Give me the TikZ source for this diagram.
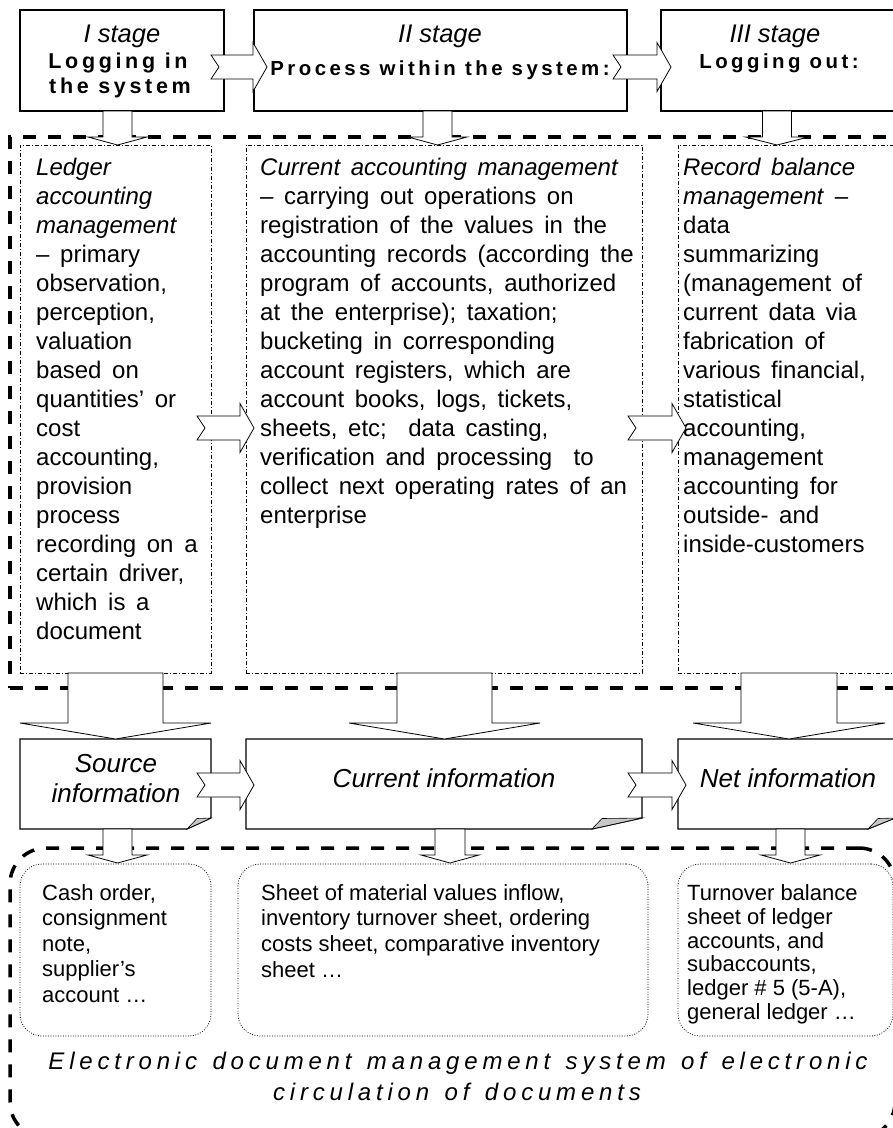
\documentclass[tikz,border=0pt]{standalone}
\usepackage{fontspec}
\setmainfont{Liberation Sans}
\newfontfamily\bodyfont{Liberation Sans}[WordSpace=1.6]
\newfontfamily\spb{Liberation Sans}[LetterSpace=17]
\newfontfamily\spi{Liberation Sans}[LetterSpace=20,WordSpace=1.35]
\usetikzlibrary{calc}
\newcommand\harrow[2]{%
  \path[barrow] let \p1=(#1), \p2=(#2) in
    (\x1,\y1+12pt) -- (\x2-14pt,\y1+12pt) -- (\x2-14pt,\y1+24.5pt) -- (\x2,\y1)
    -- (\x2-14pt,\y1-24.5pt) -- (\x2-14pt,\y1-12pt) -- (\x1,\y1-12pt) -- (\x1+8pt,\y1) -- cycle;}
% #1 top, #2 tip, #3 shaft half width, #4 head half width, #5 head length
\newcommand\varrow[5]{%
  \path[barrow] let \p1=(#1), \p2=(#2) in
    (\x1-#3pt,\y1) -- (\x1-#3pt,\y2+#5pt) -- (\x1-#4pt,\y2+#5pt) -- (\x1,\y2)
    -- (\x1+#4pt,\y2+#5pt) -- (\x1+#3pt,\y2+#5pt) -- (\x1+#3pt,\y1) -- cycle;}
% document outline: #1 node, #2 fold width
\newcommand\docshape[2]{%
  \draw[docline] (#1.north west) -- (#1.north east) -- ($(#1.south east)+(0,-11)$)
    -- ($(#1.south east)+(-#2,0)$) -- (#1.south west) -- cycle;
  \filldraw[fold] ($(#1.south east)+(-#2,0)$) -- ($(#1.south east)+(-#2+10,-10.5)$)
    -- ($(#1.south east)+(0,-11)$) -- cycle;}
\tikzset{
  stagebox/.style={draw, line width=1.2pt, inner sep=0pt, outer sep=0pt, anchor=north west},
  plainbox/.style={draw=none, inner sep=0pt, outer sep=0pt, anchor=north west},
  docline/.style={line width=1.2pt, line join=miter},
  fold/.style={fill=black!22, draw=black, line width=0.6pt},
  ddbox/.style={draw, line width=0.7pt, dash pattern=on 4pt off 2pt on 1pt off 2pt, inner sep=0pt, outer sep=0pt, anchor=north west},
  dotbox/.style={draw, line width=0.8pt, dash pattern=on 0.8pt off 1.7pt, rounded corners=22pt, inner sep=0pt, outer sep=0pt, anchor=north west},
  bigdash/.style={draw, line width=3.5pt, dash pattern=on 13pt off 12pt, inner sep=0pt, outer sep=0pt, anchor=north west},
  barrow/.style={draw, fill=white, line width=0.8pt, line join=miter},
  body/.style={anchor=north west, inner sep=0pt, align=left, font=\bodyfont\fontsize{24}{29}\selectfont},
  small/.style={anchor=north west, inner sep=0pt, align=left},
  stit/.style={anchor=base, inner sep=0pt, font=\fontsize{25.5}{29}\selectfont\itshape},
  sbold/.style={anchor=base, inner sep=0pt, font=\fontsize{20.4}{25}\spb\bfseries},
  sboldL/.style={anchor=base, inner sep=0pt, font=\fontsize{21.5}{25}\spb\bfseries},
  itit/.style={anchor=base, inner sep=0pt, font=\fontsize{26}{30}\selectfont\itshape},
  ebig/.style={anchor=base, inner sep=0pt, font=\fontsize{24}{31}\spi\itshape}
}
\begin{document}
\begin{tikzpicture}[x=1pt,y=-1pt]
\useasboundingbox (0,0) rectangle (893,1128);
\clip (0,0) rectangle (893,1128);

% big dashed frames
\node[bigdash, minimum width=900pt, minimum height=551pt] (sec1) at (10,137) {};
\node[bigdash, rounded corners=36pt, minimum width=885pt, minimum height=290pt] (sec2) at (10,848) {};

% stage boxes
\node[stagebox, minimum width=204pt, minimum height=101pt] (s1) at (20,10) {};
\node[stagebox, minimum width=373pt, minimum height=101pt] (s2) at (254,10) {};
\node[stagebox, minimum width=250pt, minimum height=101pt] (s3) at (661,10) {};

\node[stit]   (s1a) at (122,42) {I stage};
\node[sboldL] (s1b) at (118,68) {Logging in};
\node[sboldL] (s1c) at (120,93) {the system};
\node[stit]   (s2a) at (440,42) {II stage};
\node[sbold]  (s2b) at (440,75) {Process within the system:};
\node[stit]   (s3a) at (775,42) {III stage};
\node[sbold]  (s3b) at (779,68) {Logging out:};

% dash-dot boxes
\node[ddbox, minimum width=191pt, minimum height=528pt] (a1) at (20,145) {};
\node[ddbox, minimum width=396pt, minimum height=528pt] (a2) at (246,145) {};
\node[ddbox, minimum width=240pt, minimum height=528pt] (a3) at (678,145) {};

\node[body] (ta1) at (36,154.7) {\strut\textit{Ledger}\\\textit{accounting}\\\textit{management}\\– primary\\observation,\\perception,\\valuation\\based on\\quantities’ or\\cost\\accounting,\\provision\\process\\recording on a\\certain driver,\\which is a\\document};
\node[body] (ta2) at (260,154.7) {\strut\textit{Current accounting management}\\– carrying out operations on\\registration of the values in the\\accounting records (according the\\program of accounts, authorized\\at the enterprise); taxation;\\bucketing in corresponding\\account registers, which are\\account books, logs, tickets,\\sheets, etc;\ \ data casting,\\verification and processing\ \ to\\collect next operating rates of an\\enterprise};
\node[body] (ta3) at (683,154.7) {\strut\textit{Record balance}\\\textit{management} –\\data\\summarizing\\(management of\\current data via\\fabrication of\\various financial,\\statistical\\accounting,\\management\\accounting for\\outside- and\\inside-customers};

% information documents
\node[plainbox, minimum width=191pt, minimum height=90pt] (i1) at (20,739) {};
\node[plainbox, minimum width=396pt, minimum height=90pt] (i2) at (246,739) {};
\node[plainbox, minimum width=217pt, minimum height=90pt] (i3) at (678,739) {};
\docshape{i1}{24}
\docshape{i2}{50}
\docshape{i3}{27}
\node[itit] (ti1a) at (116,772) {Source};
\node[itit] (ti1b) at (116,802) {information};
\node[itit] (ti2) at (444,787) {Current information};
\node[itit] (ti3) at (788,787) {Net information};

% dotted document lists
\node[dotbox, minimum width=191pt, minimum height=172pt] (d1) at (20,864) {};
\node[dotbox, minimum width=410pt, minimum height=172pt] (d2) at (238,864) {};
\node[dotbox, minimum width=215pt, minimum height=172pt] (d3) at (678,864) {};
\node[small, font=\fontsize{22}{25.5}\selectfont] (td1) at (42,882.15) {\strut Cash order,\\consignment\\note,\\supplier’s\\account …};
\node[small, font=\fontsize{22}{25.7}\selectfont] (td2) at (261,882.0) {\strut Sheet of material values inflow,\\inventory turnover sheet, ordering\\costs sheet, comparative inventory\\sheet …};
\node[small, font=\fontsize{22}{23.9}\selectfont] (td3) at (687,883.3) {\strut Turnover balance\\sheet of ledger\\accounts, and\\subaccounts,\\ledger \# 5 (5-A),\\general ledger …};

\node[ebig] (te1) at (458,1069) {Electronic document management system of electronic};
\node[ebig] (te2) at (457,1100) {circulation of documents};

% arrow end coordinates
\coordinate (h1t) at (211,67);  \coordinate (h1h) at (267,67);
\coordinate (h2t) at (613,67);  \coordinate (h2h) at (671,67);
\coordinate (h3t) at (197,428); \coordinate (h3h) at (254,428);
\coordinate (h4t) at (628,428); \coordinate (h4h) at (686,428);
\coordinate (h5t) at (197,785); \coordinate (h5h) at (254,785);
\coordinate (h6t) at (628,785); \coordinate (h6h) at (686,785);

% horizontal block arrows
\harrow{h1t}{h1h}
\harrow{h2t}{h2h}
\harrow{h3t}{h3h}
\harrow{h4t}{h4h}
\harrow{h5t}{h5h}
\harrow{h6t}{h6h}

% vertical block arrows: stage boxes -> management boxes
\coordinate (v1t) at (117.5,111); \coordinate (v1b) at (117.5,145);
\coordinate (v2t) at (437.5,111); \coordinate (v2b) at (437.5,145);
\coordinate (v3t) at (777,111);   \coordinate (v3b) at (777,145);
\varrow{v1t}{v1b}{14.5}{29.5}{8}
\varrow{v2t}{v2b}{14.5}{29.5}{8}
\varrow{v3t}{v3b}{14.5}{31.5}{8}

% wide arrows: management boxes -> information documents
\coordinate (w1t) at (115.5,673); \coordinate (w1b) at (115.5,739);
\coordinate (w2t) at (444.5,673); \coordinate (w2b) at (444.5,739);
\coordinate (w3t) at (789,673);   \coordinate (w3b) at (789,739);
\varrow{w1t}{w1b}{47.5}{95.5}{16}
\varrow{w2t}{w2b}{47.5}{95.5}{16}
\varrow{w3t}{w3b}{48}{96}{16}

% small arrows: documents -> lists
\coordinate (u1t) at (117.5,829); \coordinate (u1b) at (117.5,863);
\coordinate (u2t) at (450,829);   \coordinate (u2b) at (450,863);
\coordinate (u3t) at (790.5,829); \coordinate (u3b) at (790.5,863);
\varrow{u1t}{u1b}{14.5}{29.5}{8}
\varrow{u2t}{u2b}{15}{29}{8}
\varrow{u3t}{u3b}{14.5}{29.5}{8}
\end{tikzpicture}
\end{document}
